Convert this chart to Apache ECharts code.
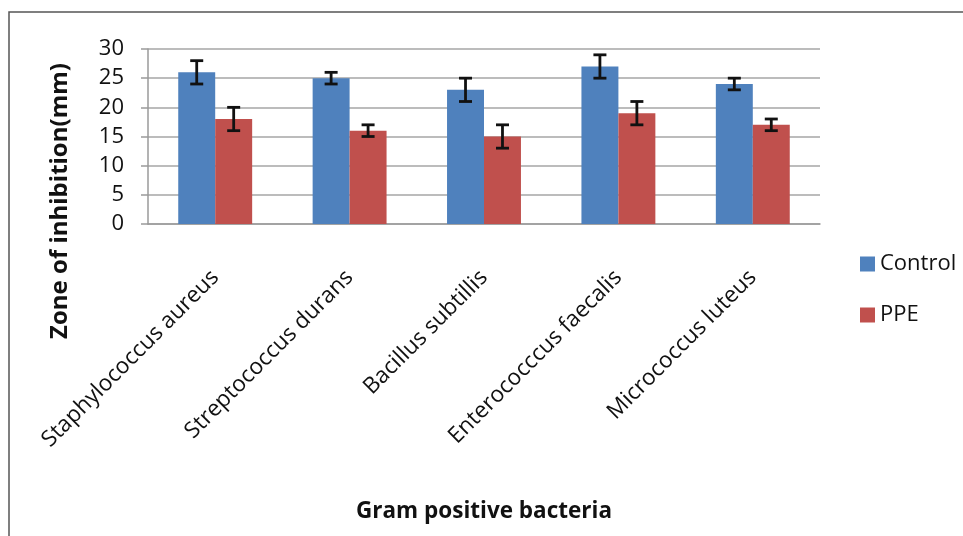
<!DOCTYPE html>
<html><head><meta charset="utf-8">
<script src="https://cdn.jsdelivr.net/npm/echarts@6/dist/echarts.min.js"></script>
<style>html,body{margin:0;padding:0;background:#fff}#c{width:963px;height:536px}</style>
</head><body><div id="c"></div>
<script>
const categories = ['Staphylococcus aureus','Streptococcus durans','Bacillus subtillis','Enterococccus faecalis','Micrococcus luteus'];
const controlValues = [26, 25, 23, 27, 24];
const controlErrors = [2, 1, 2, 2, 1];
const ppeValues = [18, 16, 15, 19, 17];
const ppeErrors = [2, 1, 2, 2, 1];
const yTicks = [0, 5, 10, 15, 20, 25, 30];

const FONT = '"Open Sans", Lato, sans-serif';
const CAT_GAP = 0.45;

function errSeries(name, values, errors, side) {
  return {
    type: 'custom', name: name + ' err', silent: true, z: 5,
    data: values.map((v, i) => [i, v - errors[i], v + errors[i]]),
    renderItem: function (params, api) {
      const i = api.value(0);
      const lo = api.coord([i, api.value(1)]);
      const hi = api.coord([i, api.value(2)]);
      const bw = api.size([1, 0])[0] * (1 - CAT_GAP) / 2;
      const x = lo[0] + side * bw / 2;
      const cap = 6.5;
      const st = { stroke: '#111', lineWidth: 2.8 };
      return { type: 'group', children: [
        { type: 'line', shape: { x1: x, y1: lo[1], x2: x, y2: hi[1] }, style: st },
        { type: 'line', shape: { x1: x - cap, y1: lo[1], x2: x + cap, y2: lo[1] }, style: st },
        { type: 'line', shape: { x1: x - cap, y1: hi[1], x2: x + cap, y2: hi[1] }, style: st }
      ]};
    }
  };
}

const chart = echarts.init(document.getElementById('c'));
chart.setOption({
  animation: false,
  textStyle: { fontFamily: FONT },
  grid: { left: 148, right: 143, top: 49, bottom: 312 },
  legend: {
    orient: 'vertical', left: 855, top: 248, itemGap: 29,
    itemWidth: 15, itemHeight: 15,
    textStyle: { fontSize: 22, color: '#111', fontFamily: FONT },
    data: [{ name: 'Control', icon: 'rect' }, { name: 'PPE', icon: 'rect' }]
  },
  xAxis: {
    type: 'category', data: categories,
    axisLine: { lineStyle: { color: '#9a9a9a', width: 1.5 } },
    axisTick: { show: false },
    axisLabel: { rotate: 45, margin: 50, fontSize: 22.5, color: '#111', fontFamily: FONT, interval: 0 }
  },
  yAxis: {
    type: 'value', min: 0, max: 30, interval: 5,
    axisLine: { show: true, lineStyle: { color: '#9a9a9a', width: 1.5 } },
    axisTick: { show: true, length: 7, lineStyle: { color: '#9a9a9a', width: 1.5 } },
    splitLine: { lineStyle: { color: '#a6a6a6', width: 1.5 } },
    axisLabel: { fontSize: 22, color: '#111', margin: 24, fontFamily: FONT,
      formatter: v => yTicks.includes(v) ? String(v) : '' }
  },
  series: [
    { name: 'Control', type: 'bar', data: controlValues, barGap: '0%', barCategoryGap: (CAT_GAP*100)+'%',
      itemStyle: { color: '#4F81BD' } },
    { name: 'PPE', type: 'bar', data: ppeValues, barGap: '0%', barCategoryGap: (CAT_GAP*100)+'%',
      itemStyle: { color: '#C0504D' } },
    errSeries('Control', controlValues, controlErrors, -1),
    errSeries('PPE', ppeValues, ppeErrors, 1)
  ],
  graphic: [
    { type: 'rect', shape: { x: 9, y: 12, width: 1000, height: 600 },
      style: { fill: 'none', stroke: '#555', lineWidth: 1.5 }, z: -1 },
    { type: 'text', x: 60, y: 201, rotation: Math.PI / 2,
      style: { text: 'Zone of inhibition(mm)', font: 'bold 24px ' + FONT, fill: '#111',
        textAlign: 'center', textVerticalAlign: 'middle' } },
    { type: 'text', x: 484, y: 512,
      style: { text: 'Gram positive bacteria', font: 'bold 22.5px ' + FONT, fill: '#111',
        textAlign: 'center', textVerticalAlign: 'middle' } }
  ]
});
</script></body></html>
